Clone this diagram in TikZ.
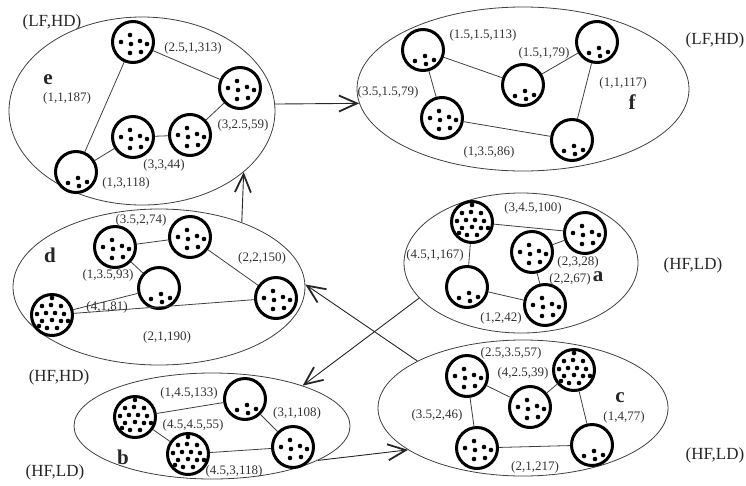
\documentclass[tikz,border=0pt]{standalone}
\usepackage{fontspec}
\setmainfont{Liberation Serif}
\usetikzlibrary{shapes.geometric,arrows.meta}
\newcommand{\dfew}[1]{\begin{scope}[shift={(#1)}]\foreach \x/\y in {-8/11,2/6,3/14,11/10}{\fill (\x,\y) circle (2.3pt);}\end{scope}}
\newcommand{\dmid}[1]{\begin{scope}[shift={(#1)}]\foreach \x/\y in {-3/-7,-12/0,-2/2,7/-1,14/2,-3/11,8/10}{\fill (\x,\y) circle (2.3pt);}\end{scope}}
\newcommand{\dmany}[1]{\begin{scope}[shift={(#1)}]\foreach \x/\y in {0/-17,-10/-9,-1/-10,9/-9,-15/-1,-6/-2,3/-2,12/-1,-10/6,0/5,9/6,16/6,-5/13,5/13,-13/11}{\fill (\x,\y) circle (2.3pt);}\end{scope}}
\begin{document}
\begin{tikzpicture}[x=1pt,y=-1pt,
  gn/.style={circle, draw=black, fill=white, line width=3pt, minimum size=41pt, inner sep=0pt},
  ed/.style={draw=black!75, line width=0.8pt},
  el/.style={ellipse, draw=black!75, line width=0.8pt, inner sep=0pt},
  lb/.style={text=black!80, font=\fontsize{13}{15}\selectfont, inner sep=0pt},
  cl/.style={text=black!85, font=\fontsize{17}{19}\selectfont, inner sep=0pt},
  ll/.style={text=black!85, font=\bfseries\fontsize{21}{23}\selectfont, inner sep=0pt},
  arr/.style={draw=black!85, line width=0.9pt, -{Straight Barb[length=18pt,width=16pt,line width=1.8pt]}}]
\useasboundingbox[fill=white] (0,0) rectangle (746,485);
% group ellipses
\node[el, minimum width=266pt, minimum height=188pt] (E) at (142,111) {};
\node[el, minimum width=332pt, minimum height=164pt] (F) at (523,89) {};
\node[el, minimum width=292pt, minimum height=156pt] (D) at (159,287) {};
\node[el, minimum width=234pt, minimum height=140pt] (A) at (521,263) {};
\node[el, minimum width=276pt, minimum height=106pt] (B) at (212,426) {};
\node[el, minimum width=290pt, minimum height=136pt] (C) at (523,408) {};
% vertices
\node[gn] (e1) at (133,42) {};
\node[gn] (e2) at (240,88) {};
\node[gn] (e3) at (190,135) {};
\node[gn] (e4) at (133,137) {};
\node[gn] (e5) at (76,172) {};
\node[gn] (f1) at (423,50) {};
\node[gn] (f2) at (442,118) {};
\node[gn] (f3) at (523,85) {};
\node[gn] (f4) at (597,42) {};
\node[gn] (f5) at (572,140) {};
\node[gn] (d1) at (115,247) {};
\node[gn] (d2) at (190,237) {};
\node[gn] (d3) at (159,288) {};
\node[gn] (d4) at (52,315) {};
\node[gn] (d5) at (276,298) {};
\node[gn] (a1) at (472,222) {};
\node[gn] (a2) at (585,233) {};
\node[gn] (a3) at (532,252) {};
\node[gn] (a4) at (467,287) {};
\node[gn] (a5) at (545,305) {};
\node[gn] (b1) at (135,417) {};
\node[gn] (b2) at (245,399) {};
\node[gn] (b3) at (188,454) {};
\node[gn] (b4) at (293,447) {};
\node[gn] (c1) at (467,376) {};
\node[gn] (c2) at (530,407) {};
\node[gn] (c3) at (574,370) {};
\node[gn] (c4) at (477,448) {};
\node[gn] (c5) at (592,445) {};
% edges
\draw[ed] (e1) -- (e2); \draw[ed] (e1) -- (e5); \draw[ed] (e5) -- (e4); \draw[ed] (e4) -- (e3); \draw[ed] (e3) -- (e2);
\draw[ed] (f1) -- (f2); \draw[ed] (f1) -- (f3); \draw[ed] (f3) -- (f4); \draw[ed] (f4) -- (f5); \draw[ed] (f2) -- (f5);
\draw[ed] (d1) -- (d2); \draw[ed] (d1) -- (d3); \draw[ed] (d3) -- (d4); \draw[ed] (d4) -- (d5); \draw[ed] (d2) -- (d5);
\draw[ed] (a1) -- (a2); \draw[ed] (a1) -- (a4); \draw[ed] (a4) -- (a5); \draw[ed] (a3) -- (a5); \draw[ed] (a3) -- (a2);
\draw[ed] (b1) -- (b2); \draw[ed] (b1) -- (b3); \draw[ed] (b2) -- (b4); \draw[ed] (b3) -- (b4);
\draw[ed] (c1) -- (c4); \draw[ed] (c1) -- (c2); \draw[ed] (c2) -- (c3); \draw[ed] (c3) -- (c5); \draw[ed] (c4) -- (c5);
% dots
\dmid{e1}\dmid{e2}\dmid{e3}\dmid{e4}\dfew{e5}
\dfew{f1}\dmid{f2}\dfew{f3}\dfew{f4}\dfew{f5}
\dmid{d1}\dmid{d2}\dfew{d3}\dmany{d4}\dmid{d5}
\dmany{a1}\dmid{a2}\dmid{a3}\dfew{a4}\dmid{a5}
\dmany{b1}\dfew{b2}\dmany{b3}\dmid{b4}
\dmid{c1}\dmid{c2}\dmany{c3}\dmid{c4}\dfew{c5}
% transitions
\draw[arr] (E.3) -- (F.185);
\draw[arr] (D.38) -- (E.-31.5);
\draw[arr] (A.199) -- (B.24.5);
\draw[arr] (C.156.5) -- (D.1);
\draw[arr] (B.-18.4) -- (C.200);
% labels
\node[cl] (lt1) at (52,22) {(LF,HD)};
\node[cl] (lt2) at (715,40) {(LF,HD)};
\node[cl] (lt3) at (693,265) {(HF,LD)};
\node[cl] (lt4) at (59,377) {(HF,HD)};
\node[cl] (lt5) at (55,472) {(HF,LD)};
\node[cl] (lt6) at (715,455) {(HF,LD)};
\node[ll] (le) at (48,80) {e};
\node[ll] (lf) at (632,102) {f};
\node[ll] (ld) at (50,255) {d};
\node[ll] (la) at (598,277) {a};
\node[ll] (lbb) at (123,457) {b};
\node[ll] (lc) at (620,398) {c};
\node[lb] (w1) at (193,48) {(2.5,1,313)};
\node[lb] (w2) at (67,98) {(1,1,187)};
\node[lb] (w3) at (164,165) {(3,3,44)};
\node[lb] (w4) at (126,183) {(1,3,118)};
\node[lb] (w5) at (243,125) {(3,2.5,59)};
\node[lb] (w6) at (483,35) {(1.5,1.5,113)};
\node[lb] (w7) at (388,92) {(3.5,1.5,79)};
\node[lb] (w8) at (489,152) {(1,3.5,86)};
\node[lb] (w9) at (544,53) {(1.5,1,79)};
\node[lb] (w10) at (623,83) {(1,1,117)};
\node[lb] (w11) at (141,220) {(3.5,2,74)};
\node[lb] (w12) at (108,275) {(1,3.5,93)};
\node[lb] (w13) at (107,307) {(4,1,81)};
\node[lb] (w14) at (262,258) {(2,2,150)};
\node[lb] (w15) at (167,337) {(2,1,190)};
\node[lb] (w16) at (533,208) {(3,4.5,100)};
\node[lb] (w17) at (435,255) {(4.5,1,167)};
\node[lb] (w18) at (578,262) {(2,3,28)};
\node[lb] (w19) at (570,279) {(2,2,67)};
\node[lb] (w20) at (501,318) {(1,2,42)};
\node[lb] (w21) at (189,393) {(1,4.5,133)};
\node[lb] (w22) at (297,413) {(3,1,108)};
\node[lb] (w23) at (193,425) {(4.5,4.5,55)};
\node[lb] (w24) at (234,471) {(4.5,3,118)};
\node[lb] (w25) at (511,353) {(2.5,3.5,57)};
\node[lb] (w26) at (523,373) {(4,2.5,39)};
\node[lb] (w27) at (437,415) {(3.5,2,46)};
\node[lb] (w28) at (624,417) {(1,4,77)};
\node[lb] (w29) at (535,467) {(2,1,217)};
\end{tikzpicture}
\end{document}
